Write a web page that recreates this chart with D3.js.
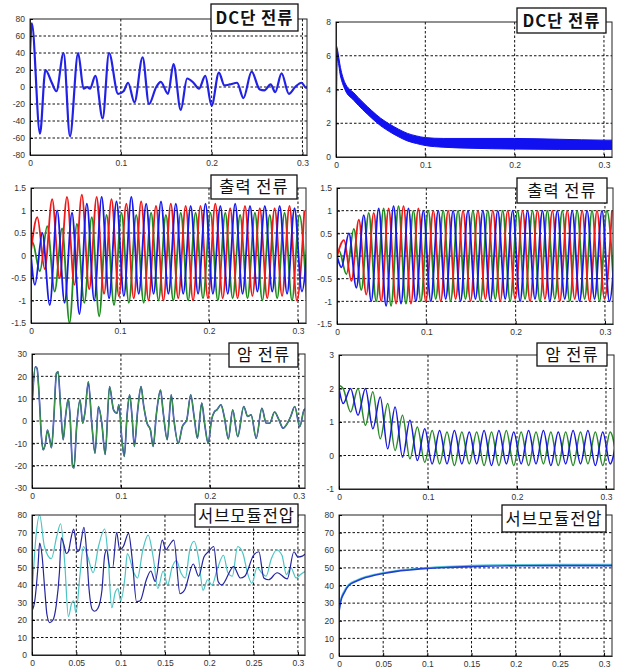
<!DOCTYPE html>
<html>
<head>
<meta charset="utf-8">
<script src="https://cdn.jsdelivr.net/npm/d3@7"></script>
<style>
  body { margin: 0; background: #fff; }
  svg { display: block; }
</style>
</head>
<body>
<div id="plot"></div>
<script>
// ---------- values ----------
// time axis ticks (s)
const xTicksCoarse = [0, 0.1, 0.2, 0.3];
const xTicksFine = [0, 0.05, 0.1, 0.15, 0.2, 0.25, 0.3];

// y ticks per panel
const dcLeftTicks = [-80, -60, -40, -20, 0, 20, 40, 60, 80];
const dcRightTicks = [0, 2, 4, 6, 8];
const outTicks = [-1.5, -1, -0.5, 0, 0.5, 1, 1.5];
const armLeftTicks = [-30, -20, -10, 0, 10, 20, 30];
const armRightTicks = [-1, 0, 1, 2, 3];
const smTicks = [0, 10, 20, 30, 40, 50, 60, 70, 80];

// DC단 전류 (left) : [t, value]
const dcLeft = [[0, 40], [0.002, 75], [0.011, -55], [0.017, 20], [0.024, 5], [0.029, -5], [0.037, 40],
  [0.044, -58], [0.053, 40], [0.059, -2], [0.063, 0], [0.066, -2], [0.072, 13], [0.080, -37], [0.087, 40],
  [0.097, -8], [0.103, -5], [0.108, 5], [0.115, -18], [0.124, 35], [0.131, -20], [0.139, 0], [0.144, 6],
  [0.152, -8], [0.158, 27], [0.166, -27], [0.173, 10], [0.180, 5], [0.186, -2], [0.193, 13], [0.200, -22],
  [0.208, 17], [0.214, 2], [0.220, 3], [0.228, 5], [0.235, -13], [0.244, 18], [0.253, -3], [0.258, -4],
  [0.265, 3], [0.270, -6], [0.277, 16], [0.285, -8], [0.292, 0], [0.299, 5], [0.304, -1], [0.309, 10]];

// DC단 전류 (right) : noisy band, upper / lower edges
const dcRightTimes = [0, 0.0015, 0.005, 0.01, 0.02, 0.03, 0.04, 0.05, 0.06, 0.07, 0.08, 0.09, 0.1, 0.12, 0.15, 0.2, 0.25, 0.3, 0.31];
const dcRightUpper = [6.7, 6.4, 5.3, 4.4, 3.8, 3.25, 2.75, 2.3, 1.95, 1.65, 1.4, 1.25, 1.15, 1.1, 1.1, 1.1, 1.05, 1.0, 1.0];
const dcRightLower = [0.2, 5.8, 4.8, 4.0, 3.35, 2.8, 2.3, 1.85, 1.5, 1.2, 0.95, 0.8, 0.68, 0.58, 0.52, 0.47, 0.45, 0.45, 0.45];

// 출력 전류 : successive half-cycle extrema (60 Hz), first extremum time, value at t = 0
const halfCycle = 1 / 120;
const outLeftRed = [0.85, -0.3, 1.25, -0.5, 1.3, -0.65, 1.35, -0.75, 1.3, -0.85, 1.25, -0.9, 1.15, -0.95, 1.2, -1.0,
  1.1, -1.0, 1.15, -0.95, 1.1, -1.0, 1.1, -0.95, 1.15, -0.95, 1.05, -0.95, 1.1, -0.9, 1.05, -0.95, 1.05, -0.9, 1.1, -1.0, 1.0];
const outLeftGreen = [0.3, -0.35, 0.65, -0.8, 0.6, -1.5, 0.7, -1.05, 0.85, -1.35, 0.9, -1.1, 0.95, -1.05, 0.9, -1.05,
  0.95, -1.0, 0.9, -1.0, 0.95, -1.0, 0.95, -0.95, 0.95, -1.0, 0.95, -0.95, 0.9, -0.95, 0.95, -1.0, 0.9, -0.95, 0.95, -1.0, 0.9, -1.0];
const outLeftBlue = [-0.65, 0.5, -1.1, 1.0, -1.05, 0.95, -1.3, 1.15, -1.0, 1.3, -0.95, 1.2, -0.9, 1.3, -0.85, 1.15,
  -0.85, 1.2, -0.85, 1.15, -0.85, 1.1, -0.85, 1.15, -0.85, 1.1, -0.85, 1.15, -0.85, 1.1, -0.8, 1.1, -0.8, 1.1, -0.85, 1.05, -0.8, 1.0];
const outLeftFirst = { red: 0.0071, green: 0.0016, blue: 0.0044 };
const outLeftStart = { red: 0.1, green: 0.2, blue: 0 };

const outRightRed = [0.35, -0.55, 0.8, -0.85, 0.95, -1.0, 1.05, -1.05, 1.1, -1.05, 1.05, -1.0, 1.0, -1.0, 1.0, -0.95,
  1.0, -1.0, 1.0, -0.95, 1.0, -1.0, 1.0, -0.95, 1.0, -1.0, 1.0, -0.95, 1.0, -1.0, 1.0, -0.95, 1.0, -1.0, 1.0, -0.95, 1.0];
const outRightGreen = [0.12, -0.4, 0.6, -0.75, 0.95, -1.0, 1.05, -1.1, 1.1, -1.05, 1.0, -1.0, 1.0, -0.95, 1.0, -1.0,
  1.0, -0.95, 1.0, -1.0, 1.0, -0.95, 1.0, -1.0, 1.0, -0.95, 1.0, -1.0, 1.0, -0.95, 1.0, -1.0, 1.0, -0.95, 1.0, -1.0, 1.0, -0.95];
const outRightBlue = [-0.25, 0.5, -0.7, 0.9, -1.0, 1.05, -1.1, 1.1, -1.05, 1.05, -1.0, 1.0, -1.0, 1.0, -0.95, 1.0,
  -1.0, 1.0, -0.95, 1.0, -1.0, 1.0, -0.95, 1.0, -1.0, 1.0, -0.95, 1.0, -1.0, 1.0, -0.95, 1.0, -1.0, 1.0, -0.95, 1.0, -1.0, 1.0];
const outRightFirst = { red: 0.0078, green: 0.0022, blue: 0.005 };

// 암 전류 (left) : [t, value], both arms almost overlap
const armLeft = [[0, 6.5], [0.0011, 14], [0.0038, 24.3], [0.0057, 23.6], [0.0079, 12.4], [0.0106, -7], [0.0125, -12.9],
  [0.0151, -10], [0.0174, -4], [0.02, -8.4], [0.0219, -12], [0.0245, 1], [0.0275, 21.4], [0.0294, 22], [0.0321, 6.5],
  [0.0351, -8.4], [0.0377, 2], [0.0408, 9.8], [0.0426, 3.5], [0.0457, -20.3], [0.0472, -21], [0.0502, -2.5], [0.054, 9.5],
  [0.057, -1], [0.0596, 4], [0.0634, 17.6], [0.0672, -1], [0.0709, -14.4], [0.0747, 6.5], [0.0785, -1], [0.0823, -15],
  [0.0872, 15.4], [0.0917, 5], [0.0955, 3.5], [0.0977, 7.2], [0.1011, -8.4], [0.1038, -15.9], [0.1068, 2], [0.1098, 11.7],
  [0.1125, 2], [0.1151, -11.4], [0.1189, 5], [0.1226, 15.4], [0.1257, 6.5], [0.1294, -1], [0.1332, -4], [0.1362, -11.4],
  [0.14, 3.5], [0.1445, 13.9], [0.1475, 4], [0.1521, -8.4], [0.1566, 11.7], [0.1596, 0.5], [0.1645, -10], [0.1691, -2.5],
  [0.174, 0.5], [0.1785, 11.7], [0.1823, 2], [0.186, -7.7], [0.1909, 8], [0.1943, -1.7], [0.1981, -10], [0.2019, 0.5],
  [0.2049, 4], [0.2079, 5], [0.2125, 7.2], [0.2162, 2], [0.2208, -8], [0.2257, 5], [0.2313, -7], [0.2381, 6.5],
  [0.2426, 2], [0.2464, 2.8], [0.2521, -7.7], [0.2585, 5.7], [0.2634, -1], [0.2672, -1], [0.2728, 4], [0.2777, 0.5],
  [0.2823, -3.2], [0.2872, -1], [0.2909, 2], [0.2955, 6.5], [0.3011, -2.5], [0.306, 5], [0.309, 5.7]];

// 암 전류 (right) : half-cycle extrema, opposite phases
const armRightBlue = [1.55, 2.0, 1.2, 2.0, 0.8, 1.75, 0.2, 1.45, -0.05, 1.05, -0.15, 0.8, -0.25, 0.75, -0.25, 0.75,
  -0.25, 0.7, -0.25, 0.75, -0.3, 0.75, -0.25, 0.7, -0.25, 0.75, -0.25, 0.75, -0.3, 0.7, -0.25, 0.75, -0.25, 0.75, -0.3, 0.7, -0.25, 0.75];
const armRightGreen = [2.0, 1.3, 2.0, 0.9, 1.9, 0.5, 1.55, 0.15, 1.2, -0.1, 0.85, -0.2, 0.75, -0.25, 0.7, -0.3,
  0.7, -0.25, 0.7, -0.3, 0.7, -0.3, 0.75, -0.3, 0.7, -0.3, 0.7, -0.25, 0.7, -0.3, 0.7, -0.3, 0.7, -0.25, 0.7, -0.3, 0.7, -0.3];
const armRightFirst = 0.0047;
const armRightStart = { blue: 2.0, green: 2.1 };

// 서브모듈전압 (left) : [t, value]
const smLeftNavy = [[0, 25], [0.003, 30.5], [0.0068, 51], [0.0086, 64], [0.0113, 57], [0.0143, 38], [0.0169, 23],
  [0.02, 18.5], [0.0237, 20], [0.0274, 28.6], [0.031, 47.6], [0.0331, 67], [0.036, 63], [0.0387, 58], [0.041, 59],
  [0.044, 66.7], [0.047, 72], [0.049, 66.7], [0.0511, 59], [0.0535, 60], [0.0556, 65.7], [0.0586, 73], [0.0613, 61],
  [0.0643, 38], [0.068, 26], [0.0707, 25], [0.0744, 26.7], [0.0789, 37], [0.082, 57], [0.0842, 60], [0.088, 50],
  [0.091, 50], [0.0955, 70], [0.099, 60], [0.103, 62], [0.109, 69.5], [0.113, 55], [0.118, 30.5], [0.122, 31],
  [0.129, 43], [0.134, 48], [0.139, 42], [0.147, 65.7], [0.151, 60], [0.154, 62], [0.16, 65.7], [0.167, 35],
  [0.172, 37], [0.182, 52], [0.188, 45], [0.194, 56], [0.199, 59], [0.205, 62], [0.21, 42], [0.214, 40],
  [0.2275, 50.5], [0.235, 44], [0.24, 45], [0.25, 57], [0.256, 59], [0.2615, 44], [0.267, 43], [0.2766, 47],
  [0.288, 43.5], [0.2955, 59], [0.3, 56], [0.305, 56.5], [0.309, 58]];
const smLeftCyan = [[0, 33], [0.004, 65], [0.0086, 80], [0.014, 62], [0.0218, 55], [0.028, 68], [0.0323, 75],
  [0.037, 52], [0.041, 22], [0.045, 30], [0.047, 31], [0.0496, 24], [0.054, 45], [0.058, 62], [0.063, 56],
  [0.069, 47], [0.075, 62], [0.082, 72], [0.086, 55], [0.09, 27], [0.094, 36], [0.097, 38], [0.1, 31],
  [0.105, 45], [0.1075, 58], [0.115, 47], [0.119, 44], [0.125, 60], [0.131, 68.5], [0.137, 55], [0.142, 38],
  [0.148, 48], [0.153, 40], [0.158, 50], [0.163, 54], [0.168, 47], [0.173, 44], [0.178, 60], [0.183, 65],
  [0.188, 55], [0.193, 37], [0.198, 43], [0.203, 40], [0.209, 49], [0.216, 57], [0.221, 47], [0.226, 45],
  [0.232, 62], [0.238, 58], [0.243, 47], [0.248, 41], [0.254, 50], [0.259, 47], [0.264, 45], [0.27, 55],
  [0.276, 60], [0.282, 57], [0.287, 46], [0.292, 50], [0.298, 44], [0.303, 46], [0.309, 48]];

// 서브모듈전압 (right)
const smRightBlue = [[0, 25], [0.002, 31], [0.006, 36], [0.011, 40], [0.02, 42.5], [0.03, 44.5], [0.04, 45.8],
  [0.05, 46.8], [0.065, 48], [0.08, 48.8], [0.1, 49.7], [0.125, 50.3], [0.15, 50.7], [0.2, 51.2], [0.25, 51.3], [0.309, 51.3]];
const smRightCyan = [[0, 26], [0.002, 32], [0.006, 37], [0.011, 40.5], [0.02, 43], [0.03, 45], [0.04, 46.2],
  [0.05, 47.2], [0.065, 48.4], [0.08, 49.2], [0.1, 50.1], [0.125, 50.8], [0.15, 51.3], [0.2, 51.8], [0.25, 51.9], [0.309, 51.9]];

// ---------- helpers ----------
// place half-cycle extrema on the time axis
function wave(first, start, extrema) {
  return [[0, start]].concat(extrema.map((v, i) => [first + i * halfCycle, v]));
}

const width = 621, height = 669;

const svg = d3.select('#plot')
  .append('svg')
  .attr('width', width)
  .attr('height', height)
  .style('background', '#fff');

const panels = [
  { left: 30, right: 307, top: 19, bottom: 155, xMax: 0.305, yDomain: [-80, 80], yTicks: dcLeftTicks, xTicks: xTicksCoarse,
    title: 'DC단 전류', bold: true, box: [211, 4, 298, 31],
    series: [{ data: dcLeft, color: '#2222e6', width: 2.2 }] },
  { left: 336, right: 612, top: 22, bottom: 157, xMax: 0.309, yDomain: [0, 8], yTicks: dcRightTicks, xTicks: xTicksCoarse,
    title: 'DC단 전류', bold: true, box: [517, 8, 606, 33],
    band: dcRightTimes.map((t, i) => [t, dcRightLower[i], dcRightUpper[i]]), bandColor: '#1010f0', series: [] },
  { left: 31, right: 306, top: 188, bottom: 323, xMax: 0.309, yDomain: [-1.5, 1.5], yTicks: outTicks, xTicks: xTicksCoarse,
    title: '출력 전류', box: [211, 175, 297, 199],
    series: [
      { data: wave(outLeftFirst.green, outLeftStart.green, outLeftGreen), color: '#1e8c1e', width: 1.8 },
      { data: wave(outLeftFirst.red, outLeftStart.red, outLeftRed), color: '#f01818', width: 1.8 },
      { data: wave(outLeftFirst.blue, outLeftStart.blue, outLeftBlue), color: '#1818ea', width: 1.8 }
    ] },
  { left: 337, right: 613, top: 188, bottom: 324, xMax: 0.309, yDomain: [-1.5, 1.5], yTicks: outTicks, xTicks: xTicksCoarse,
    title: '출력 전류', box: [517, 178, 607, 203],
    series: [
      { data: wave(outRightFirst.green, 0, outRightGreen), color: '#1e8c1e', width: 1.8 },
      { data: wave(outRightFirst.red, 0, outRightRed), color: '#f01818', width: 1.8 },
      { data: wave(outRightFirst.blue, 0, outRightBlue), color: '#1818ea', width: 1.8 }
    ] },
  { left: 32, right: 305, top: 354, bottom: 488, xMax: 0.307, yDomain: [-30, 30], yTicks: armLeftTicks, xTicks: xTicksCoarse,
    title: '암 전류', box: [229, 343, 298, 367],
    series: [
      { data: armLeft, color: '#2a2ad8', width: 1.6 },
      { data: armLeft, color: '#3f9a3f', width: 1.1 }
    ] },
  { left: 339, right: 614, top: 355, bottom: 489, xMax: 0.309, yDomain: [-1, 3], yTicks: armRightTicks, xTicks: xTicksCoarse,
    title: '암 전류', box: [537, 343, 607, 366],
    series: [
      { data: wave(armRightFirst, armRightStart.green, armRightGreen), color: '#2a8a2a', width: 1.5 },
      { data: wave(armRightFirst, armRightStart.blue, armRightBlue), color: '#1818d8', width: 1.5 }
    ] },
  { left: 32, right: 305, top: 515, bottom: 655, xMax: 0.308, yDomain: [0, 80], yTicks: smTicks, xTicks: xTicksFine,
    title: '서브모듈전압', box: [195, 504, 298, 527],
    series: [
      { data: smLeftCyan, color: '#4cc4c4', width: 1.2 },
      { data: smLeftNavy, color: '#2424a0', width: 1.2 }
    ] },
  { left: 339, right: 612, top: 515, bottom: 656, xMax: 0.309, yDomain: [0, 80], yTicks: smTicks, xTicks: xTicksFine,
    title: '서브모듈전압', box: [502, 505, 606, 532],
    series: [
      { data: smRightCyan, color: '#5cc8d8', width: 1.6 },
      { data: smRightBlue, color: '#1f3fd0', width: 1.6 }
    ] }
];

panels.forEach((p, i) => {
  const x = d3.scaleLinear().domain([0, p.xMax]).range([p.left, p.right]);
  const y = d3.scaleLinear().domain(p.yDomain).range([p.bottom, p.top]);
  const g = svg.append('g');

  // clip to plot area
  g.append('clipPath')
    .attr('id', `clip${i}`)
    .append('rect')
    .attr('x', p.left)
    .attr('y', p.top)
    .attr('width', p.right - p.left)
    .attr('height', p.bottom - p.top);

  // dotted grid
  g.append('g')
    .selectAll('line')
    .data(p.xTicks.filter(d => d > 0))
    .join('line')
    .attr('x1', d => x(d)).attr('x2', d => x(d))
    .attr('y1', p.top).attr('y2', p.bottom)
    .attr('stroke', '#111')
    .attr('stroke-dasharray', '2.5,2');

  g.append('g')
    .selectAll('line')
    .data(p.yTicks.filter(d => d > p.yDomain[0] && d < p.yDomain[1]))
    .join('line')
    .attr('x1', p.left).attr('x2', p.right)
    .attr('y1', d => y(d)).attr('y2', d => y(d))
    .attr('stroke', '#111')
    .attr('stroke-dasharray', '2.5,2');

  const plot = g.append('g').attr('clip-path', `url(#clip${i})`);

  // noisy band
  if (p.band) {
    plot.append('path')
      .datum(p.band)
      .attr('d', d3.area()
        .x(d => x(d[0]))
        .y0(d => y(d[1]))
        .y1(d => y(d[2]))
        .curve(d3.curveMonotoneX))
      .attr('fill', p.bandColor)
      .attr('stroke', p.bandColor)
      .attr('stroke-width', 1);
  }

  const line = d3.line()
    .x(d => x(d[0]))
    .y(d => y(d[1]))
    .curve(d3.curveMonotoneX);

  p.series.forEach(s => {
    plot.append('path')
      .datum(s.data)
      .attr('d', line)
      .attr('fill', 'none')
      .attr('stroke', s.color)
      .attr('stroke-width', s.width)
      .attr('stroke-linejoin', 'round');
  });

  // box
  g.append('rect')
    .attr('x', p.left).attr('y', p.top)
    .attr('width', p.right - p.left).attr('height', p.bottom - p.top)
    .attr('fill', 'none')
    .attr('stroke', '#222')
    .attr('stroke-width', 1);

  // axes
  g.append('g')
    .attr('transform', `translate(${p.left},0)`)
    .call(d3.axisLeft(y).tickValues(p.yTicks).tickFormat(d => String(d)).tickSize(-3).tickSizeOuter(0).tickPadding(5))
    .call(a => a.select('.domain').attr('stroke', '#222'))
    .selectAll('text')
    .style('font-family', '"Liberation Sans", Arial, sans-serif')
    .style('font-size', '8.5px')
    .attr('fill', '#333');

  g.append('g')
    .attr('transform', `translate(0,${p.bottom})`)
    .call(d3.axisBottom(x).tickValues(p.xTicks).tickFormat(d => String(d)).tickSize(-3).tickSizeOuter(0).tickPadding(5))
    .call(a => a.select('.domain').attr('stroke', '#222'))
    .selectAll('text')
    .style('font-family', '"Liberation Sans", Arial, sans-serif')
    .style('font-size', '8.5px')
    .attr('fill', '#333');

  // title box
  const [bx0, by0, bx1, by1] = p.box;
  g.append('rect')
    .attr('x', bx0).attr('y', by0)
    .attr('width', bx1 - bx0).attr('height', by1 - by0)
    .attr('fill', '#fff')
    .attr('stroke', '#111')
    .attr('stroke-width', 1.3);

  g.append('text')
    .attr('x', (bx0 + bx1) / 2)
    .attr('y', (by0 + by1) / 2 + 6)
    .attr('text-anchor', 'middle')
    .style('font-family', '"Noto Sans CJK KR", sans-serif')
    .style('font-size', '16.5px')
    .style('font-weight', p.bold ? 'bold' : 'normal')
    .style('letter-spacing', '1px')
    .attr('fill', '#111')
    .text(p.title);
});
</script>
</body>
</html>
